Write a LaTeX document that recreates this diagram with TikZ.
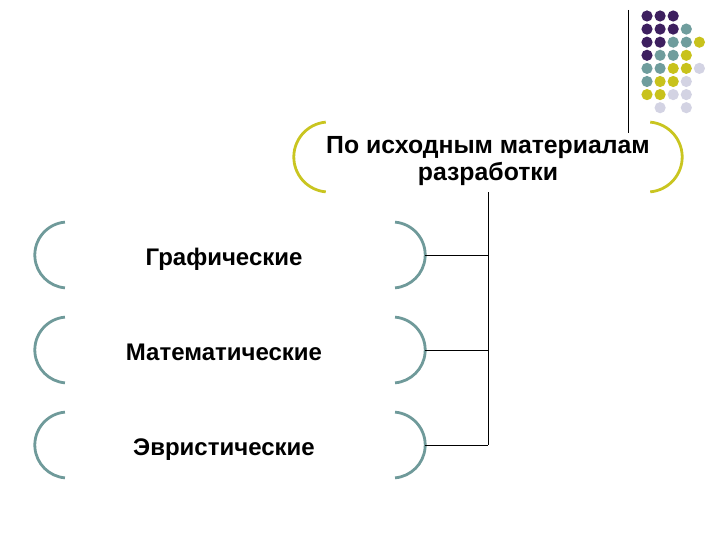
\documentclass[tikz,border=0pt]{standalone}
\usepackage{fontspec}
\setmainfont{Liberation Sans}
\definecolor{dotpurple}{HTML}{3D1F5F}
\definecolor{dotteal}{HTML}{6F9D9D}
\definecolor{dotyellow}{HTML}{C8C21C}
\definecolor{dotlilac}{HTML}{D3D3E3}
\definecolor{brkteal}{HTML}{6F9A9A}
\definecolor{brkyellow}{HTML}{C9C520}
\newcommand{\brk}[3]{% node, colour, radius
    \draw[#2, brkline] ([xshift=#3, shift={(95:#3)}]#1.west)
        arc[start angle=95, end angle=265, radius=#3];
    \draw[#2, brkline] ([xshift=-#3, shift={(85:#3)}]#1.east)
        arc[start angle=85, end angle=-85, radius=#3];
}
\newcommand{\lbl}[1]{\raisebox{-5pt}[\height][\depth]{\begin{tabular}{@{}c@{}}#1\end{tabular}}}
\begin{document}
\begin{tikzpicture}[x=1pt, y=1pt,
        font=\bfseries\fontsize{24}{27}\selectfont,
        brkline/.style={line width=2.8pt},
        group/.style={minimum width=390pt, minimum height=66pt, inner sep=0pt},
        link/.style={black, line width=0.9pt}]
    \useasboundingbox (0,0) rectangle (720,540);
    % decoration in the corner
    \draw[black, line width=1pt] (628,530) -- (628,407);
    \foreach \c/\r/\col in {0/0/dotpurple, 1/0/dotpurple, 2/0/dotpurple,
            0/1/dotpurple, 1/1/dotpurple, 2/1/dotpurple, 3/1/dotteal,
            0/2/dotpurple, 1/2/dotpurple, 2/2/dotteal, 3/2/dotteal, 4/2/dotyellow,
            0/3/dotpurple, 1/3/dotteal, 2/3/dotteal, 3/3/dotyellow,
            0/4/dotteal, 1/4/dotteal, 2/4/dotyellow, 3/4/dotyellow, 4/4/dotlilac,
            0/5/dotteal, 1/5/dotyellow, 2/5/dotyellow, 3/5/dotlilac,
            0/6/dotyellow, 1/6/dotyellow, 2/6/dotlilac, 3/6/dotlilac,
            1/7/dotlilac, 3/7/dotlilac}{
        \fill[\col] (647+13.1*\c, 524-13.1*\r) circle[radius=5.6];
    }
    \node[group, minimum width=388pt, minimum height=70pt,
          font=\bfseries\fontsize{24.8}{27}\selectfont] (src) at (488,383)
        {\lbl{По исходным материалам\\разработки}};
    \node[group] (graph) at (230,285) {\lbl{Графические}\kern12pt};
    \node[group] (math) at (230,190) {\lbl{Математические}\kern12pt};
    \node[group] (heur) at (230,95) {\lbl{Эвристические}\kern12pt};
    \brk{src}{brkyellow}{35pt}
    \foreach \n in {graph, math, heur}{
        \brk{\n}{brkteal}{33pt}
    }
    \draw[link] (src.south) -- (src.south |- heur.east);
    \foreach \n in {graph, math, heur}
        \draw[link] (\n.east) -- (\n.east -| src.south);
\end{tikzpicture}
\end{document}
